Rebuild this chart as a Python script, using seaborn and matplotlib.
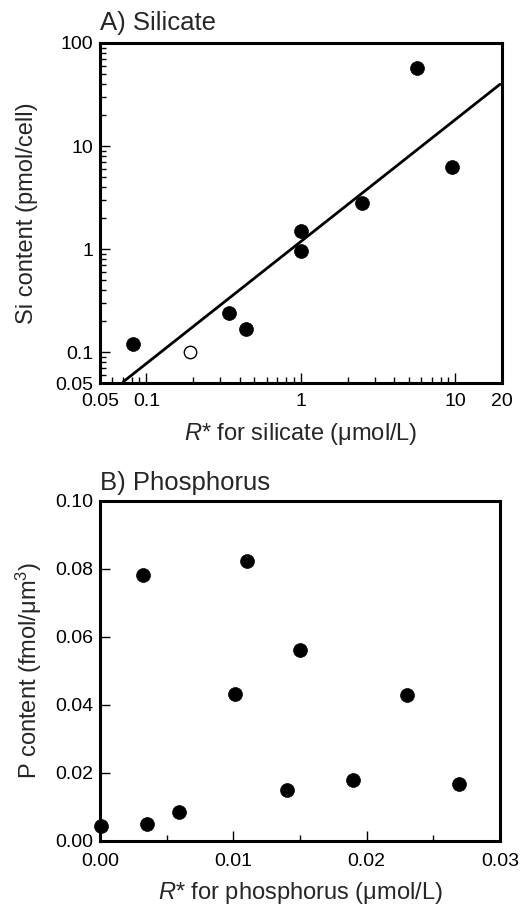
import matplotlib
matplotlib.use("Agg")
import matplotlib.pyplot as plt
import seaborn as sns
import numpy as np
import pandas as pd
from matplotlib.ticker import FixedLocator, NullFormatter, FixedFormatter

# ---- Data: panel A (silicate) ----
si_rstar_filled = [0.0814, 0.340, 0.44, 1.0, 1.0, 2.47, 5.6, 9.5]
si_content_filled = [0.119, 0.238, 0.167, 1.5, 0.96, 2.78, 56.8, 6.2]
si_rstar_open = [0.191]
si_content_open = [0.100]
fit_x = [0.0708, 19.4]
fit_y = [0.0515, 39.7]

# ---- Data: panel B (phosphorus) ----
p_rstar = [0.0001, 0.00325, 0.00355, 0.0059, 0.0101, 0.011, 0.014, 0.0150, 0.0190, 0.0230, 0.0269]
p_content = [0.0044, 0.0781, 0.0049, 0.0085, 0.043, 0.0823, 0.0148, 0.0561, 0.0178, 0.0428, 0.0168]

si_xticks = [0.05, 0.1, 1, 10, 20]
si_xticklabels = ["0.05", "0.1", "1", "10", "20"]
si_yticks = [0.05, 0.1, 1, 10, 100]
si_yticklabels = ["0.05", "0.1", "1", "10", "100"]
p_xticks = [0.0, 0.01, 0.02, 0.03]
p_xticklabels = ["0.00", "0.01", "0.02", "0.03"]
p_yticks = [0.0, 0.02, 0.04, 0.06, 0.08, 0.10]
p_yticklabels = ["0.00", "0.02", "0.04", "0.06", "0.08", "0.10"]

sns.set_theme(style="ticks")
plt.rcParams["font.family"] = ["Liberation Sans", "DejaVu Sans"]
plt.rcParams["mathtext.fontset"] = "custom"
plt.rcParams["mathtext.rm"] = "Liberation Sans"
plt.rcParams["mathtext.it"] = "Liberation Sans:italic"

fig = plt.figure(figsize=(5.31, 9.07), dpi=100)
axA = fig.add_axes([0.1883, 0.5777, 0.7571, 0.3749])
axB = fig.add_axes([0.1883, 0.0731, 0.7533, 0.3749])

dfA = pd.DataFrame({"x": si_rstar_filled, "y": si_content_filled})
dfAo = pd.DataFrame({"x": si_rstar_open, "y": si_content_open})
dfFit = pd.DataFrame({"x": fit_x, "y": fit_y})
dfB = pd.DataFrame({"x": p_rstar, "y": p_content})

# Panel A
sns.lineplot(data=dfFit, x="x", y="y", ax=axA, color="black", linewidth=2.0, zorder=2)
sns.scatterplot(data=dfA, x="x", y="y", ax=axA, color="black", s=100,
                edgecolor="black", linewidth=0.5, zorder=3)
sns.scatterplot(data=dfAo, x="x", y="y", ax=axA, facecolor="white", s=80,
                edgecolor="black", linewidth=1.0, zorder=3)
axA.set_xscale("log")
axA.set_yscale("log")
axA.set_xlim(0.05, 20)
axA.set_ylim(0.05, 100)
axA.xaxis.set_major_locator(FixedLocator(si_xticks))
axA.xaxis.set_major_formatter(FixedFormatter(si_xticklabels))
axA.yaxis.set_major_locator(FixedLocator(si_yticks))
axA.yaxis.set_major_formatter(FixedFormatter(si_yticklabels))
minx = [v * d for d in [0.01, 0.1, 1] for v in range(2, 10)]
minx = [m for m in minx if 0.05 < m < 20 and m not in si_xticks]
miny = [v * d for d in [0.01, 0.1, 1, 10] for v in range(2, 10)]
miny = [m for m in miny if 0.05 < m < 100 and m not in si_yticks]
axA.xaxis.set_minor_locator(FixedLocator(minx))
axA.yaxis.set_minor_locator(FixedLocator(miny))
axA.xaxis.set_minor_formatter(NullFormatter())
axA.yaxis.set_minor_formatter(NullFormatter())
axA.set_xlabel(r"$R$* for silicate ($\mathrm{\mu}$mol/L)", fontsize=17, labelpad=8)
axA.set_ylabel("Si content (pmol/cell)", fontsize=17, labelpad=12)
axA.set_title("A) Silicate", loc="left", fontsize=18.5, pad=9)

# Panel B
sns.scatterplot(data=dfB, x="x", y="y", ax=axB, color="black", s=100,
                edgecolor="black", linewidth=0.5, zorder=3, clip_on=False)
axB.set_xlim(0, 0.03)
axB.set_ylim(0, 0.10)
axB.xaxis.set_major_locator(FixedLocator(p_xticks))
axB.xaxis.set_major_formatter(FixedFormatter(p_xticklabels))
axB.yaxis.set_major_locator(FixedLocator(p_yticks))
axB.yaxis.set_major_formatter(FixedFormatter(p_yticklabels))
axB.xaxis.set_minor_locator(FixedLocator([0.005, 0.015, 0.025]))
axB.set_xlabel(r"$R$* for phosphorus ($\mathrm{\mu}$mol/L)", fontsize=17, labelpad=7)
axB.set_ylabel(r"P content (fmol/$\mathrm{\mu}$m$^3$)", fontsize=17, labelpad=8)
axB.set_title("B) Phosphorus", loc="left", fontsize=18.5, pad=8)

for ax in (axA, axB):
    for side in ["left", "right", "top", "bottom"]:
        ax.spines[side].set_visible(True)
        ax.spines[side].set_linewidth(2.2)
        ax.spines[side].set_color("black")
    ax.tick_params(which="major", direction="in", length=7, width=1.0,
                   labelsize=14, colors="black")
    ax.tick_params(which="minor", direction="in", length=4, width=1.0, colors="black")
    ax.tick_params(axis="y", which="major", pad=5)
    ax.tick_params(top=False, right=False, which="both")
    ax.set_facecolor("white")
    ax.grid(False)
axA.tick_params(axis="x", which="major", pad=7)
axB.tick_params(axis="x", which="major", pad=9)

fig.savefig("out.png", dpi=100, facecolor="white")
